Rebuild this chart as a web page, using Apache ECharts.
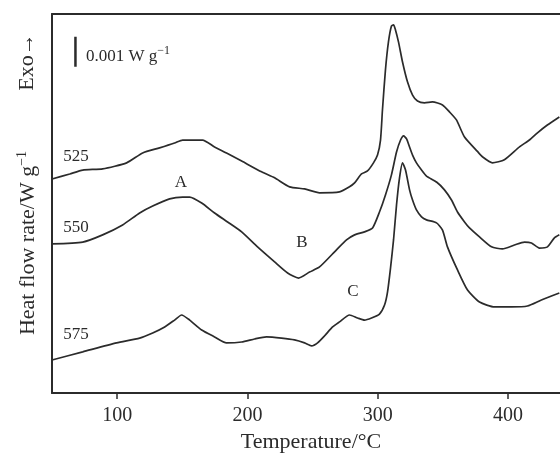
<!DOCTYPE html>
<html>
<head>
<meta charset="utf-8">
<script src="https://cdn.jsdelivr.net/npm/echarts@6/dist/echarts.min.js"></script>
<style>
html,body{margin:0;padding:0;background:#fff;}
#chart{width:560px;height:453px;}
</style>
</head>
<body>
<div id="chart"></div>
<script>
// Temperature (°C) and heat flow (units of 0.001 W g^-1, arbitrary offset)
const temp525 = [50,63.6,73.6,88.9,107.3,119.6,132.6,144.1,150.3,165.6,174.8,184.0,195.6,210.9,220.9,232.4,243.9,255.4,270.7,278.4,282.3,287.6,292.2,296.8,299.9,302.2,303.7,306.0,308.3,310.6,312.2,313.7,316.0,319.1,322.9,326.8,330.6,336.0,342.1,349.8,355.1,360.5,366.7,376.6,380.5,388.1,397.3,408.9,416.5,422.7,430.3,439.5];
const heat525 = [7.13,7.30,7.43,7.47,7.67,8.00,8.17,8.33,8.43,8.43,8.20,8.00,7.73,7.37,7.17,6.87,6.80,6.67,6.70,6.87,7.00,7.30,7.40,7.67,7.93,8.43,9.43,10.77,11.70,12.23,12.27,12.10,11.70,11.03,10.37,9.93,9.73,9.67,9.70,9.60,9.37,9.10,8.53,8.05,7.87,7.67,7.77,8.20,8.43,8.67,8.93,9.20];

const temp550 = [50,73.6,88.9,104.2,117.3,127.3,140.3,150.3,155.7,164.9,174.8,184.8,195.6,207.8,220.9,230.9,239.3,247.7,255.4,268.4,276.1,282.3,289.9,296.1,301.4,306.0,310.6,314.5,317.6,319.9,322.2,324.5,326.8,329.8,333.7,337.5,345.2,351.3,356.7,361.3,366.7,370.5,378.2,387.4,395.8,405.0,412.7,418.1,424.2,430.4,435.7,439.5];
const heat550 = [4.97,5.03,5.27,5.60,6.00,6.23,6.47,6.53,6.53,6.33,6.00,5.70,5.37,4.87,4.37,4.00,3.83,4.03,4.20,4.77,5.10,5.27,5.37,5.50,6.03,6.60,7.27,8.03,8.43,8.57,8.47,8.20,7.93,7.67,7.43,7.23,7.03,6.77,6.43,6.03,5.70,5.50,5.20,4.87,4.80,4.93,5.03,5.00,4.83,4.87,5.17,5.27];

const temp575 = [50,73.6,99.6,117.3,127.3,136.5,144.1,149.5,155.7,164.9,174.8,184.0,195.6,205.5,214.7,226.2,236.2,243.9,249.3,253.9,259.2,265.4,270.7,278.4,284.6,289.9,295.3,301.4,305.3,307.6,309.9,312.2,314.5,316.8,319.1,321.4,324.5,326.8,329.8,333.7,337.5,345.2,349.8,353.6,361.3,369.0,378.2,389.7,402.7,415.0,425.7,439.5];
const heat575 = [1.10,1.37,1.67,1.83,2.00,2.20,2.43,2.60,2.43,2.10,1.87,1.67,1.70,1.80,1.87,1.83,1.77,1.67,1.57,1.67,1.90,2.20,2.37,2.60,2.50,2.43,2.50,2.63,2.93,3.37,4.17,5.10,6.27,7.17,7.67,7.43,6.77,6.43,6.10,5.87,5.77,5.67,5.43,4.87,4.10,3.43,3.03,2.87,2.87,2.90,3.10,3.33];

// scale bar: 0.001 W g^-1 = 1 unit
const scaleBarTemp = [68, 68];
const scaleBarHeat = [10.87, 11.87];

const tickValues = [100, 200, 300, 400];
const curveNames = ['525', '550', '575'];
const peakNames = ['A', 'B', 'C'];

const pairs = (xs, ys) => xs.map((x, i) => [x, ys[i]]);
const ink = '#2b2b2b';
const serif = '"Liberation Serif", "Times New Roman", serif';

const chart = echarts.init(document.getElementById('chart'), null, {renderer: 'canvas'});

const lineSeries = (name, xs, ys) => ({
  name, type: 'line', data: pairs(xs, ys), showSymbol: false, symbol: 'none',
  smooth: 0.2, lineStyle: {color: ink, width: 1.7}, animation: false, z: 3
});

const txt = (text, x, y, size) => ({
  type: 'text', x, y,
  style: {text, font: size + 'px ' + serif, fill: ink, align: 'center', verticalAlign: 'middle'}
});

chart.setOption({
  animation: false,
  backgroundColor: '#fff',
  grid: {left: 52, right: 0, top: 14, bottom: 60},
  xAxis: [{
    type: 'value', min: 50, max: 440, position: 'bottom',
    axisLine: {show: true, lineStyle: {color: ink, width: 2}},
    axisTick: {show: true, inside: false, length: 6, customValues: tickValues, lineStyle: {color: ink, width: 1.5}},
    axisLabel: {show: true, customValues: tickValues, margin: 13, color: ink, fontFamily: serif, fontSize: 20},
    splitLine: {show: false}
  }, {
    type: 'value', min: 50, max: 440, position: 'top',
    axisLine: {show: true, onZero: false, lineStyle: {color: ink, width: 2}},
    axisTick: {show: false}, axisLabel: {show: false}, splitLine: {show: false}
  }],
  yAxis: {
    type: 'value', min: 0, max: 12.63,
    axisLine: {show: true, lineStyle: {color: ink, width: 2}},
    axisTick: {show: false}, axisLabel: {show: false}, splitLine: {show: false}
  },
  series: [
    lineSeries(curveNames[0], temp525, heat525),
    lineSeries(curveNames[1], temp550, heat550),
    lineSeries(curveNames[2], temp575, heat575),
    {type: 'line', data: pairs(scaleBarTemp, scaleBarHeat), showSymbol: false, symbol: 'none',
     lineStyle: {color: ink, width: 2.5}, animation: false}
  ],
  graphic: [
    txt('Temperature/°C', 311, 442, 22),
    {type: 'text', x: 27, y: 243, rotation: Math.PI / 2,
     style: {text: '{m|Heat flow rate/W g}{s|−1}', fill: ink, align: 'center', verticalAlign: 'middle',
       rich: {
         m: {fontSize: 22, fontFamily: serif, fill: ink, lineHeight: 24, verticalAlign: 'bottom'},
         s: {fontSize: 14, fontFamily: serif, fill: ink, lineHeight: 10, verticalAlign: 'top'}
       }}},
    {type: 'text', x: 27, y: 62, rotation: Math.PI / 2,
     style: {text: 'Exo→', font: '22px ' + serif, fill: ink, align: 'center', verticalAlign: 'middle'}},
    {type: 'text', x: 86, y: 55,
     style: {text: '{m|0.001 W g}{s|−1}', fill: ink, align: 'left', verticalAlign: 'middle',
       rich: {
         m: {fontSize: 17, fontFamily: serif, fill: ink, lineHeight: 20, verticalAlign: 'bottom'},
         s: {fontSize: 12, fontFamily: serif, fill: ink, lineHeight: 8, verticalAlign: 'top'}
       }}},
    txt(curveNames[0], 76, 157, 17),
    txt(curveNames[1], 76, 228, 17),
    txt(curveNames[2], 76, 335, 17),
    txt(peakNames[0], 181, 183, 17),
    txt(peakNames[1], 302, 243, 17),
    txt(peakNames[2], 353, 292, 17)
  ]
});
</script>
</body>
</html>
